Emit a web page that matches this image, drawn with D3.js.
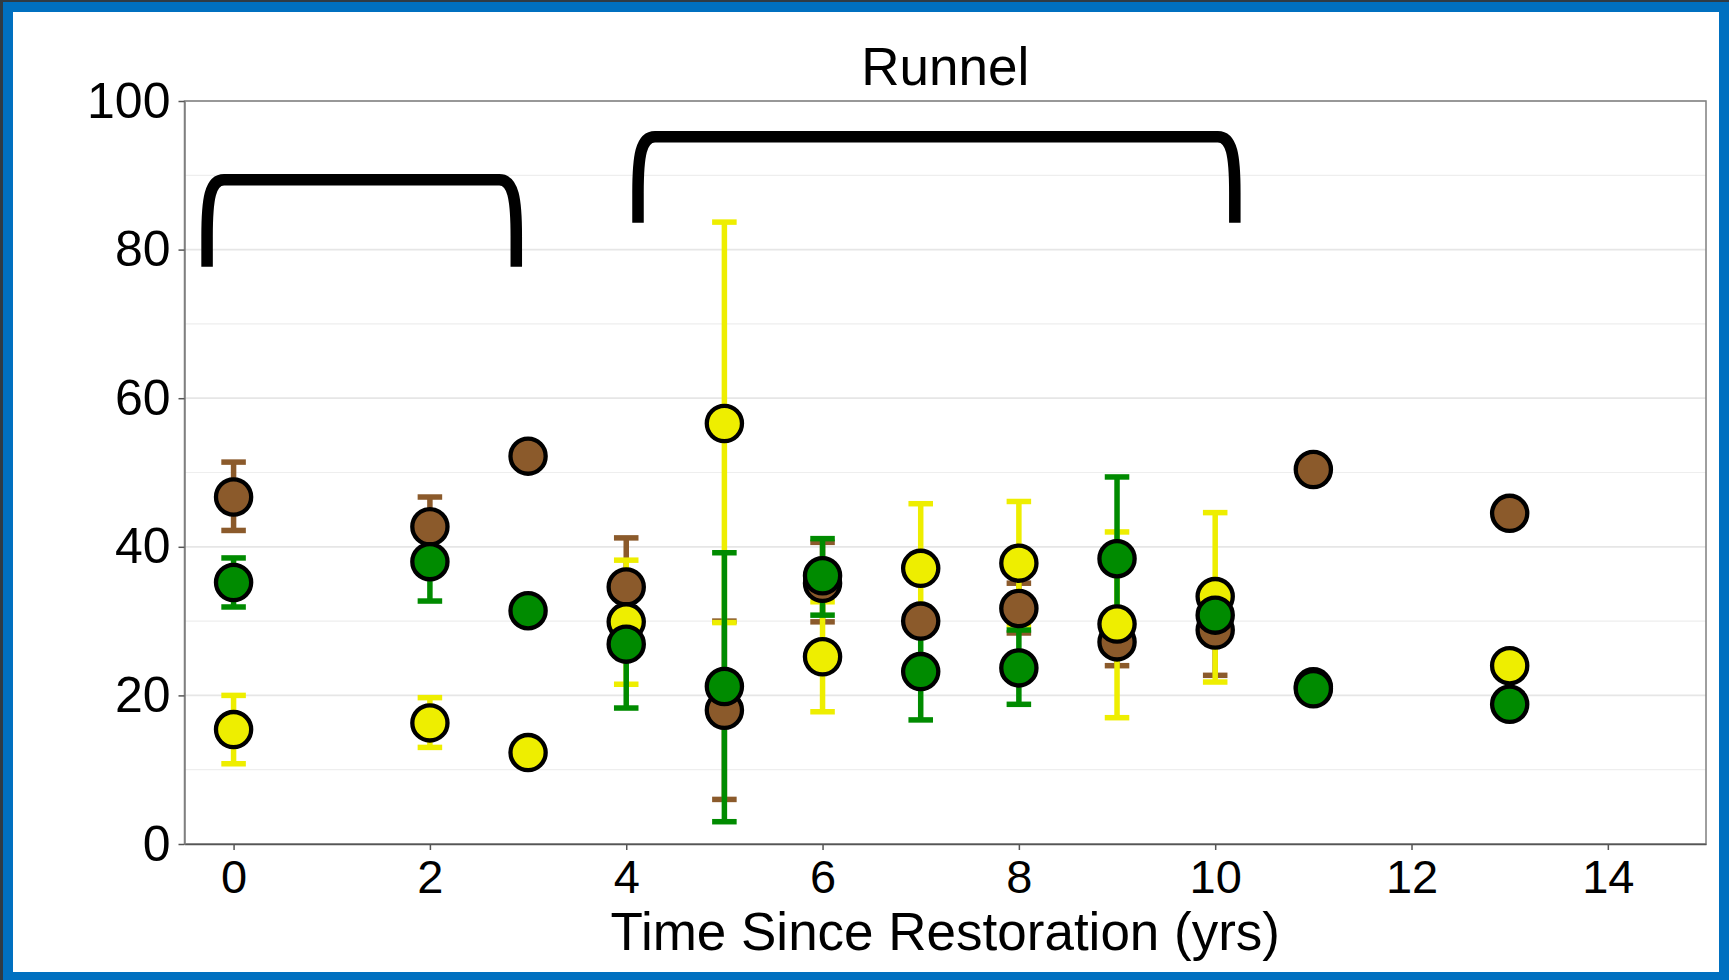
<!DOCTYPE html>
<html>
<head>
<meta charset="utf-8">
<script src="https://cdn.jsdelivr.net/npm/d3@7"></script>
<style>
  html, body { margin: 0; padding: 0; background: #0070C0; }
  svg { display: block; }
  text { font-family: "Liberation Sans", Arial, Helvetica, sans-serif; fill: #000; }
</style>
</head>
<body>
<svg id="chart" width="1729" height="980"></svg>
<script>
// ---- data ----
const years = [0, 2, 3, 4, 5, 6, 7, 8, 9, 10, 11, 13];

const brownMean  = [46.7, 42.7, 52.2, 34.6, 18.0, 35.1, 30.0, 31.7, 27.2, 28.8, 50.4, 44.5];
const brownLow   = [42.2, 38.7, null, 28.0,  6.0, 29.9, null, 28.4, 24.0, 22.7, null, null];
const brownHigh  = [51.4, 46.7, null, 41.2, 30.0, 40.6, null, 35.1, 30.6, 34.9, null, null];

const yellowMean = [15.4, 16.3, 12.3, 29.9, 56.6, 25.2, 37.1, 37.8, 29.6, 33.3, 21.15, 24.0];
const yellowLow  = [10.8, 13.0, null, 21.5, 29.8, 17.8, 28.4, 29.5, 17.0, 21.8, null, null];
const yellowHigh = [20.0, 19.7, null, 38.2, 83.7, 32.6, 45.8, 46.1, 42.0, 44.6, null, null];

const greenMean  = [35.2, 38.0, 31.4, 26.9, 21.2, 36.1, 23.2, 23.7, 38.4, 30.8, 20.9, 18.8];
const greenLow   = [31.9, 32.7, null, 18.3,  3.0, 30.8, 16.7, 18.8, 27.4, null, null, null];
const greenHigh  = [38.5, 43.3, null, 35.5, 39.2, 41.1, 29.7, 28.8, 49.4, null, null, null];

const seriesNames = ["brown", "yellow", "green"];
const seriesColors = ["#8B5A2B", "#EEEE00", "#008B00"];

const xTicks = [0, 2, 4, 6, 8, 10, 12, 14];
const yTicks = [0, 20, 40, 60, 80, 100];
const yMinorTicks = [10, 30, 50, 70, 90];

// brackets (data units)
const bracketStart  = [-0.27, 4.12];
const bracketEnd    = [2.88, 10.2];
const bracketTop    = [89.4, 95.2];
const bracketBottom = [77.7, 83.6];

const titleText = "Runnel";
const xLabel = "Time Since Restoration (yrs)";

// ---- layout ----
const svg = d3.select("#chart");
const W = 1729, H = 980;

svg.append("rect").attr("x", 0).attr("y", 0).attr("width", W).attr("height", H).attr("fill", "#0070C0");
svg.append("rect").attr("x", 0).attr("y", 0).attr("width", 3).attr("height", H).attr("fill", "#2f3b45");
svg.append("rect").attr("x", 0).attr("y", 0).attr("width", W).attr("height", 2).attr("fill", "#2f3b45");
svg.append("rect").attr("x", 13).attr("y", 12).attr("width", 1719 - 13).attr("height", 972 - 12).attr("fill", "#ffffff");

const pLeft = 184.5, pRight = 1706, pTop = 101, pBottom = 844;
const x = d3.scaleLinear().domain([-0.5, 15]).range([pLeft, pRight]);
const y = d3.scaleLinear().domain([0, 100]).range([pBottom, pTop]);

// gridlines
const g = svg.append("g");
g.selectAll("line.minor").data(yMinorTicks).join("line").attr("class", "minor")
  .attr("x1", pLeft).attr("x2", pRight)
  .attr("y1", d => y(d)).attr("y2", d => y(d))
  .attr("stroke", "#eeeeee").attr("stroke-width", 1.2);
g.selectAll("line.major").data(yTicks).join("line").attr("class", "major")
  .attr("x1", pLeft).attr("x2", pRight)
  .attr("y1", d => y(d)).attr("y2", d => y(d))
  .attr("stroke", "#e6e6e6").attr("stroke-width", 1.8);

// panel border
svg.append("rect").attr("x", pLeft).attr("y", pTop)
  .attr("width", pRight - pLeft).attr("height", pBottom - pTop)
  .attr("fill", "none").attr("stroke", "#7f7f7f").attr("stroke-width", 1.5);

// axes
const xAxis = d3.axisBottom(x).tickValues(xTicks).tickSize(6).tickSizeOuter(0).tickPadding(10).tickFormat(d3.format("d"));
const yAxis = d3.axisLeft(y).tickValues(yTicks).tickSize(6).tickSizeOuter(0).tickPadding(8).tickFormat(d3.format("d"));

const gx = svg.append("g").attr("transform", `translate(0,${pBottom})`).call(xAxis);
gx.select(".domain").attr("stroke", "#555").attr("stroke-width", 1.5);
gx.selectAll(".tick line").attr("stroke", "#555").attr("stroke-width", 1.5);
gx.selectAll(".tick text").attr("font-size", 47).attr("font-family", "Liberation Sans, Arial, sans-serif").attr("fill", "#000");

const gy = svg.append("g").attr("transform", `translate(${pLeft},0)`).call(yAxis);
gy.select(".domain").attr("stroke", "#7f7f7f").attr("stroke-width", 1.5);
gy.selectAll(".tick line").attr("stroke", "#555").attr("stroke-width", 1.5);
gy.selectAll(".tick text").attr("font-size", 50).attr("font-family", "Liberation Sans, Arial, sans-serif").attr("fill", "#000");

// brackets
const bracketData = bracketStart.map((s, i) => ({ s, e: bracketEnd[i], t: bracketTop[i], b: bracketBottom[i] }));
svg.append("g").selectAll("path").data(bracketData).join("path")
  .attr("d", d => {
    const x0 = x(d.s), x1 = x(d.e), yt = y(d.t), yb = y(d.b);
    const h = yb - yt;
    return `M${x0},${yb} L${x0},${yb - 0.35 * h} C${x0},${yt + 0.22 * h} ${x0 + 3},${yt} ${x0 + 17},${yt}`
         + ` L${x1 - 17},${yt} C${x1 - 3},${yt} ${x1},${yt + 0.22 * h} ${x1},${yb - 0.35 * h} L${x1},${yb}`;
  })
  .attr("fill", "none").attr("stroke", "#000").attr("stroke-width", 11.5)
  .attr("stroke-linecap", "butt").attr("stroke-linejoin", "round");

// build series
const means = [brownMean, yellowMean, greenMean];
const lows = [brownLow, yellowLow, greenLow];
const highs = [brownHigh, yellowHigh, greenHigh];
const series = seriesNames.map((name, si) => ({
  name, color: seriesColors[si],
  pts: years.map((yr, i) => ({ yr, m: means[si][i], lo: lows[si][i], hi: highs[si][i] }))
}));

// error bars
const capHalf = 0.125;
const eb = svg.append("g");
series.forEach(s => {
  const withBars = s.pts.filter(p => p.lo != null && p.hi != null);
  const gs = eb.append("g").attr("stroke", s.color).attr("stroke-width", 5.5).attr("fill", "none");
  gs.selectAll("line.v").data(withBars).join("line").attr("class", "v")
    .attr("x1", p => x(p.yr)).attr("x2", p => x(p.yr))
    .attr("y1", p => y(p.lo)).attr("y2", p => y(p.hi));
  gs.selectAll("line.lo").data(withBars).join("line").attr("class", "lo")
    .attr("x1", p => x(p.yr - capHalf)).attr("x2", p => x(p.yr + capHalf))
    .attr("y1", p => y(p.lo)).attr("y2", p => y(p.lo));
  gs.selectAll("line.hi").data(withBars).join("line").attr("class", "hi")
    .attr("x1", p => x(p.yr - capHalf)).attr("x2", p => x(p.yr + capHalf))
    .attr("y1", p => y(p.hi)).attr("y2", p => y(p.hi));
});

// points
const pg = svg.append("g");
series.forEach(s => {
  pg.append("g").selectAll("circle").data(s.pts).join("circle")
    .attr("cx", p => x(p.yr)).attr("cy", p => y(p.m)).attr("r", 17.6)
    .attr("fill", s.color).attr("stroke", "#000").attr("stroke-width", 4.3);
});

// titles
svg.append("text").attr("x", (pLeft + pRight) / 2).attr("y", 85)
  .attr("text-anchor", "middle").attr("font-size", 53).text(titleText);
svg.append("text").attr("x", (pLeft + pRight) / 2).attr("y", 950)
  .attr("text-anchor", "middle").attr("font-size", 53).text(xLabel);
</script>
</body>
</html>
